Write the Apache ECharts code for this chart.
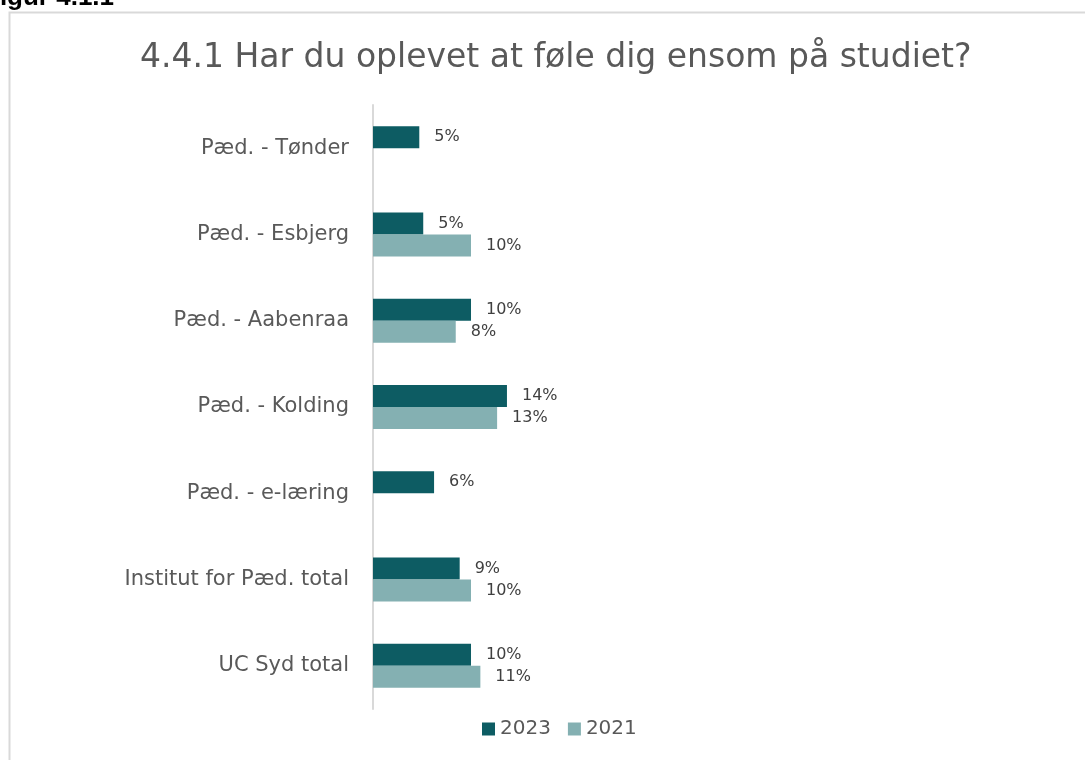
<!DOCTYPE html>
<html>
<head>
<meta charset="utf-8">
<script src="https://cdn.jsdelivr.net/npm/echarts@6/dist/echarts.min.js"></script>
<style>
  html, body { margin: 0; padding: 0; background: #fff; }
  #main { width: 1085px; height: 760px; }
</style>
</head>
<body>
<div id="main"></div>
<script>
var categories = [
  "Pæd. - Tønder",
  "Pæd. - Esbjerg",
  "Pæd. - Aabenraa",
  "Pæd. - Kolding",
  "Pæd. - e-læring",
  "Institut for Pæd. total",
  "UC Syd total"
];
// andel i procent
var values2023 = [4.7, 5.1, 9.95, 13.6, 6.2, 8.8, 9.95];
var values2021 = [null, 9.95, 8.4, 12.6, null, 9.95, 10.9];

var myChart = echarts.init(document.getElementById("main"));

function pctLabel(p) {
  return Math.round(p.value) + "%";
}

myChart.setOption({
  animation: false,
  textStyle: { fontFamily: "DejaVu Sans" },
  title: {
    text: "4.4.1 Har du oplevet at føle dig ensom på studiet?",
    left: 135,
    top: 37,
    textStyle: { fontFamily: "DejaVu Sans", fontSize: 33, fontWeight: "normal", color: "#595959" }
  },
  graphic: [
    {
      type: "rect",
      shape: { x: 9.5, y: 12.5, width: 1200, height: 900 },
      style: { fill: null, stroke: "#d9d9d9", lineWidth: 2 },
      silent: true
    },
    {
      type: "text",
      x: -16,
      y: -2,
      style: {
        text: "Figur 4.1.1",
        fontFamily: "Liberation Sans",
        fontSize: 26,
        fontWeight: "bold",
        fill: "#000",
        verticalAlign: "middle"
      }
    }
  ],
  legend: {
    data: ["2023", "2021"],
    bottom: 16,
    left: 477,
    itemWidth: 13,
    itemHeight: 13,
    itemGap: 17,
    icon: "rect",
    textStyle: { fontSize: 20, color: "#595959" }
  },
  grid: {
    left: 373,
    top: 105,
    width: 197,
    height: 604
  },
  xAxis: {
    type: "value",
    min: 0,
    max: 20,
    show: false
  },
  yAxis: {
    type: "category",
    inverse: true,
    data: categories,
    axisLine: { lineStyle: { color: "#d9d9d9", width: 2 } },
    axisTick: { show: false },
    axisLabel: { fontSize: 21, color: "#595959", margin: 24 }
  },
  series: [
    {
      name: "2023",
      type: "bar",
      data: values2023,
      barWidth: 22,
      barGap: "0%",
      itemStyle: { color: "#0d5c63" },
      label: { show: true, position: "right", distance: 15, fontSize: 16, color: "#404040", formatter: pctLabel }
    },
    {
      name: "2021",
      type: "bar",
      data: values2021,
      barWidth: 22,
      itemStyle: { color: "#84b0b2" },
      label: { show: true, position: "right", distance: 15, fontSize: 16, color: "#404040", formatter: pctLabel }
    }
  ]
});
</script>
</body>
</html>
